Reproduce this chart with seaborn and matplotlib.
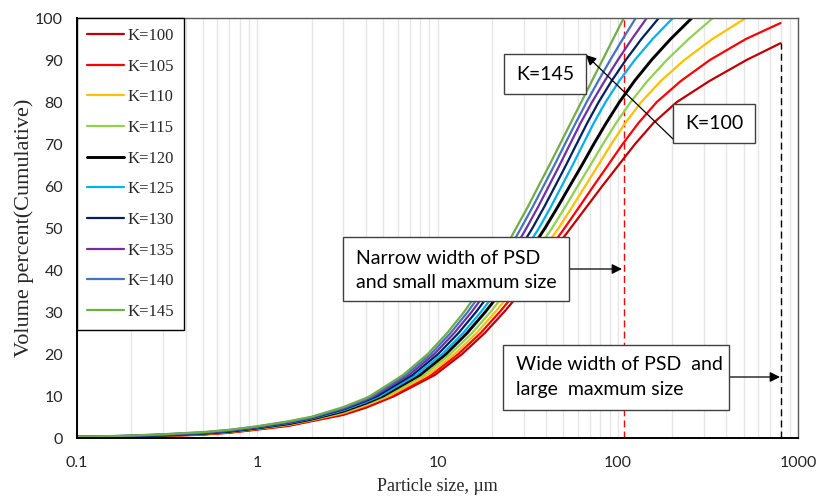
import matplotlib
matplotlib.use("Agg")
import matplotlib.pyplot as plt
import numpy as np
import pandas as pd
import seaborn as sns
from matplotlib.ticker import FixedLocator, FixedFormatter, LogLocator, NullFormatter
from matplotlib.patches import Rectangle
from matplotlib.lines import Line2D

# ---------------- data ----------------
K_LABELS = ["K=100", "K=105", "K=110", "K=115", "K=120",
            "K=125", "K=130", "K=135", "K=140", "K=145"]
K_COLORS = ["#C00000", "#FF0000", "#FFC000", "#92D050", "#000000",
            "#00B0F0", "#002060", "#7030A0", "#4472C4", "#70AD47"]

LOW_SIZES = [0.1, 0.15, 0.2, 0.3, 0.5, 0.7, 1, 1.5, 2, 3, 4]
LEVELS = [10, 15, 20, 25, 30, 35, 40, 45, 50, 55, 60, 65, 70, 75, 80, 85, 90, 95, 100]

# K=100
k100_size = LOW_SIZES + [5.77, 9.66, 13.70, 18.29, 23.41, 29.36, 36.36, 44.78, 54.81, 67.10,
                         82.11, 101.2, 124.8, 157.7, 212.9, 322.8, 518.1, 800]
k100_pct = [0.10, 0.17, 0.25, 0.45, 0.80, 1.25, 2.00, 2.90, 4.00, 5.50, 7.20,
            10, 15, 20, 25, 30, 35, 40, 45, 50, 55, 60, 65, 70, 75, 80, 85, 90, 94]
# K=105
k105_size = LOW_SIZES + [5.57, 9.24, 13.05, 17.36, 22.13, 27.65, 34.05, 41.75, 50.76, 61.10,
                         73.38, 88.46, 106.5, 130.3, 164.7, 223.9, 324.4, 514.1, 800]
k105_pct = [0.12, 0.20, 0.29, 0.50, 0.87, 1.33, 2.10, 3.03, 4.13, 5.72, 7.48,
            10, 15, 20, 25, 30, 35, 40, 45, 50, 55, 60, 65, 70, 75, 80, 85, 90, 95, 98.8]
# K=110
k110_size = LOW_SIZES + [5.39, 8.83, 12.44, 16.47, 20.92, 26.04, 31.91, 38.89, 47.01, 55.86,
                         65.98, 78.10, 92.13, 110.1, 135.1, 173.4, 234.1, 335.0, 514.1]
k110_pct = [0.15, 0.24, 0.33, 0.56, 0.94, 1.42, 2.19, 3.16, 4.25, 5.94, 7.75] + LEVELS
# K=115
k115_size = LOW_SIZES + [5.19, 8.41, 11.79, 15.55, 19.67, 24.36, 29.70, 36.03, 43.26, 51.08,
                         60.00, 70.61, 82.75, 97.95, 118.0, 146.2, 187.1, 247.4, 337.1]
k115_pct = [0.17, 0.27, 0.37, 0.61, 1.01, 1.50, 2.28, 3.29, 4.37, 6.15, 8.01] + LEVELS
# K=120
k120_size = LOW_SIZES + [4.99, 7.98, 11.15, 14.60, 18.41, 22.70, 27.50, 33.16, 39.50, 46.42,
                         54.18, 63.34, 73.65, 86.32, 102.2, 123.8, 153.9, 196.5, 257.7]
k120_pct = [0.19, 0.30, 0.41, 0.66, 1.08, 1.58, 2.38, 3.42, 4.49, 6.37, 8.28] + LEVELS
# K=125
k125_size = LOW_SIZES + [4.82, 7.63, 10.62, 13.86, 17.40, 21.38, 25.77, 30.86, 36.58, 42.50,
                         48.90, 56.22, 64.31, 73.65, 85.67, 101.9, 124.3, 156.1, 202.1]
k125_pct = [0.22, 0.33, 0.45, 0.71, 1.15, 1.66, 2.46, 3.54, 4.61, 6.57, 8.53] + LEVELS
# K=130
k130_size = LOW_SIZES + [4.64, 7.27, 10.08, 13.08, 16.36, 20.00, 23.99, 28.58, 33.66, 39.06,
                         44.96, 51.67, 59.11, 67.70, 78.40, 92.38, 110.8, 135.3, 169.0]
k130_pct = [0.24, 0.37, 0.495, 0.765, 1.22, 1.74, 2.56, 3.67, 4.74, 6.80, 8.81] + LEVELS
# K=135
k135_size = LOW_SIZES + [4.48, 6.95, 9.60, 12.39, 15.46, 18.83, 22.47, 26.64, 31.17, 36.12,
                         41.48, 47.62, 54.40, 62.20, 72.06, 84.57, 100.1, 119.8, 144.9]
k135_pct = [0.26, 0.39, 0.53, 0.81, 1.28, 1.81, 2.64, 3.78, 4.84, 6.98, 9.04] + LEVELS
# K=140
k140_size = LOW_SIZES + [4.35, 6.68, 9.19, 11.82, 14.70, 17.85, 21.19, 24.99, 29.10, 33.71,
                         38.75, 44.56, 50.95, 58.42, 67.25, 77.93, 90.85, 106.6, 125.9]
k140_pct = [0.28, 0.42, 0.565, 0.855, 1.34, 1.88, 2.72, 3.89, 4.95, 7.17, 9.27] + LEVELS
# K=145
k145_size = LOW_SIZES + [4.23, 6.44, 8.83, 11.32, 14.04, 16.98, 20.08, 23.59, 27.33, 31.67,
                         36.36, 41.80, 47.87, 54.81, 62.77, 71.88, 82.33, 94.28, 108.0]
k145_pct = [0.30, 0.45, 0.60, 0.90, 1.40, 1.95, 2.80, 4.00, 5.05, 7.35, 9.50] + LEVELS

SIZES = [k100_size, k105_size, k110_size, k115_size, k120_size,
         k125_size, k130_size, k135_size, k140_size, k145_size]
PCTS = [k100_pct, k105_pct, k110_pct, k115_pct, k120_pct,
        k125_pct, k130_pct, k135_pct, k140_pct, k145_pct]

NARROW_MAX = 108.0      # red dashed marker (max size, K=145)
WIDE_MAX = 800.0        # black dashed marker (max size, K=100)
WIDE_MAX_PCT = 94.0

X_TICKS = [0.1, 1, 10, 100, 1000]
X_TICK_LABELS = ["0.1", "1", "10", "100", "1000"]
Y_TICKS = [0, 10, 20, 30, 40, 50, 60, 70, 80, 90, 100]

rows = []
for lab, s, p in zip(K_LABELS, SIZES, PCTS):
    for a, b in zip(s, p):
        rows.append({"size": a, "pct": b, "K": lab})
df = pd.DataFrame(rows)

# ---------------- figure ----------------
sns.set_style("white")
W, H = 816, 497
fig = plt.figure(figsize=(W / 100, H / 100), dpi=100)
L, R, T, B = 77, 798, 18, 438
ax = fig.add_axes([L / W, 1 - B / H, (R - L) / W, (B - T) / H])

palette = dict(zip(K_LABELS, K_COLORS))
sns.lineplot(data=df, x="size", y="pct", hue="K", hue_order=K_LABELS,
             palette=palette, sort=False, estimator=None, ax=ax,
             linewidth=1.6, legend=False)
for line, lab in zip(ax.get_lines(), K_LABELS):
    line.set_solid_joinstyle("round")
    if lab == "K=120":
        line.set_linewidth(2.1)

ax.set_xscale("log")
ax.set_xlim(0.1, 1000)
ax.set_ylim(0, 100)

ax.xaxis.set_major_locator(FixedLocator(X_TICKS))
ax.xaxis.set_major_formatter(FixedFormatter(X_TICK_LABELS))
ax.xaxis.set_minor_locator(LogLocator(base=10, subs=np.arange(2, 10)))
ax.xaxis.set_minor_formatter(NullFormatter())
ax.grid(True, which="both", axis="x", color="#e6e6e6", linewidth=1.0)
ax.grid(False, axis="y")
ax.set_axisbelow(True)

ax.set_yticks(Y_TICKS)
ax.tick_params(axis="x", which="major", direction="in", length=5, width=1,
               pad=13, labelsize=11.5, color="black")
ax.tick_params(axis="x", which="minor", direction="in", length=3.5, width=1,
               color="black")
ax.tick_params(axis="y", length=0, pad=10, labelsize=11.5)
for lbl in ax.get_xticklabels() + ax.get_yticklabels():
    lbl.set_fontfamily("Lato")

for side in ["left", "bottom"]:
    ax.spines[side].set_color("black")
    ax.spines[side].set_linewidth(1.4)
for side in ["top", "right"]:
    ax.spines[side].set_color("#595959")
    ax.spines[side].set_linewidth(1.0)

ax.set_xlabel("Particle size, \u00b5m", fontfamily="Liberation Serif", fontsize=13)
ax.set_ylabel("Volume percent(Cumulative)", fontfamily="Liberation Serif", fontsize=16)
ax.xaxis.set_label_coords(0.5, -0.095)
ax.yaxis.set_label_coords(-0.06, 0.5)

# dashed markers
ax.axvline(NARROW_MAX, color="#FF0000", linestyle=(0, (5, 3)), linewidth=1.0, zorder=1)
ax.plot([WIDE_MAX, WIDE_MAX], [0, WIDE_MAX_PCT], color="black",
        linestyle=(0, (5, 3)), linewidth=1.0, zorder=1)

# legend
handles = [Line2D([0], [0], color=c, linewidth=2.1 if l == "K=120" else 1.6)
           for l, c in zip(K_LABELS, K_COLORS)]
leg = ax.legend(handles, K_LABELS, loc="upper left", bbox_to_anchor=(0, 1),
                borderaxespad=0, frameon=True, fancybox=False,
                prop={"family": "Liberation Serif", "size": 12},
                handlelength=2.2, handletextpad=0.25, labelspacing=0.88,
                borderpad=0.6)
leg.get_frame().set_edgecolor("black")
leg.get_frame().set_linewidth(1.0)
leg.get_frame().set_alpha(1)

# ---------------- annotation boxes (figure pixels, top-left origin) ----------------
def fy(y):
    return 1 - y / H

def fx(x):
    return x / W

def box(x0, y0, x1, y1):
    fig.patches.append(Rectangle((fx(x0), fy(y1)), fx(x1) - fx(x0), fy(y0) - fy(y1),
                                 transform=fig.transFigure, facecolor="white",
                                 edgecolor="#404040", linewidth=1.0, zorder=5))

def arrow(x0, y0, x1, y1):
    ax.annotate("", xy=(fx(x1), fy(y1)), xytext=(fx(x0), fy(y0)),
                xycoords="figure fraction", textcoords="figure fraction",
                arrowprops=dict(arrowstyle="-|>", color="black", lw=0.9,
                                mutation_scale=15, shrinkA=0, shrinkB=0),
                zorder=6)

ann_font = dict(fontfamily="Lato", fontsize=14, color="black", zorder=7)

box(504, 54, 586, 94)
fig.text(fx(545), fy(74), "K=145", ha="center", va="center", **ann_font)
box(673, 104, 755, 143)
fig.text(fx(714), fy(123.5), "K=100", ha="center", va="center", **ann_font)
arrow(673, 139, 586, 55)

box(343, 237, 569, 301)
fig.text(fx(356), fy(258), "Narrow width of PSD", ha="left", va="center", **ann_font)
fig.text(fx(356), fy(283), "and small maxmum size", ha="left", va="center", **ann_font)
arrow(569, 269, 622, 269)

box(503, 345, 729, 410)
fig.text(fx(516), fy(365), "Wide width of PSD  and", ha="left", va="center", **ann_font)
fig.text(fx(516), fy(390), "large  maxmum size", ha="left", va="center", **ann_font)
arrow(729, 377, 780, 377)

fig.savefig("out.png", dpi=100, facecolor="white")
